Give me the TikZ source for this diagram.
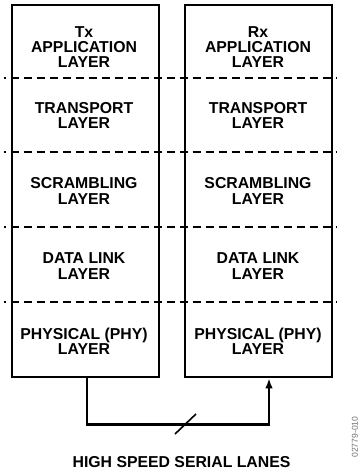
\documentclass[tikz,border=0pt]{standalone}
\usepackage{fontspec}
\setmainfont{Liberation Sans}
\usetikzlibrary{arrows.meta}
\tikzset{
  stack/.style={draw, line width=2.5pt, rectangle, inner sep=0pt, minimum width=147pt, minimum height=372pt},
  lbl/.style={align=center, inner sep=0pt, font=\fontsize{15.8}{15.3}\selectfont\bfseries},
  sep/.style={line width=2.4pt, dash pattern=on 8.5pt off 4.5pt, dash phase=6.5pt},
  conn/.style={line width=2.4pt},
  tick/.style={line width=1.6pt},
  code/.style={font=\fontsize{8.6}{9}\selectfont, text=black!55, rotate=90, inner sep=0pt}
}
\begin{document}
\begin{tikzpicture}[x=1pt,y=-1pt]
\useasboundingbox (0,0) rectangle (359,470);
% outer boxes
\node[stack] (tx) at (85.5,191) {};
\node[stack] (rx) at (258.5,191) {};
% layer separators
\foreach \yy in {78,152,227,302} {
  \draw[sep] (4,\yy) -- (336,\yy);
}
% labels
\node[lbl] (txapp) at (84,47) {Tx\\APPLICATION\\LAYER};
\node[lbl] (txtr) at (84,115.5) {TRANSPORT\\LAYER};
\node[lbl] (txsc) at (84,191) {SCRAMBLING\\LAYER};
\node[lbl] (txdl) at (84,266) {DATA LINK\\LAYER};
\node[lbl] (txphy) at (84,341) {PHYSICAL (PHY)\\LAYER};
\node[lbl] (rxapp) at (258,47) {Rx\\APPLICATION\\LAYER};
\node[lbl] (rxtr) at (258,115.5) {TRANSPORT\\LAYER};
\node[lbl] (rxsc) at (258,191) {SCRAMBLING\\LAYER};
\node[lbl] (rxdl) at (258,266) {DATA LINK\\LAYER};
\node[lbl] (rxphy) at (258,341) {PHYSICAL (PHY)\\LAYER};
% serial lanes connector
\coordinate (bend) at (178,424.5);
\draw[conn, -{Latex[length=10pt,width=7.5pt]}] ([xshift=1.5pt]tx.south) |- (bend) -| ([xshift=10.5pt]rx.south);
\draw[tick] (175,434) -- (196,414);
\node[lbl] (lanes) at (181.5,462) {HIGH SPEED SERIAL LANES};
\node[code] (fig) at (355,437) {02779-010};
\end{tikzpicture}
\end{document}
